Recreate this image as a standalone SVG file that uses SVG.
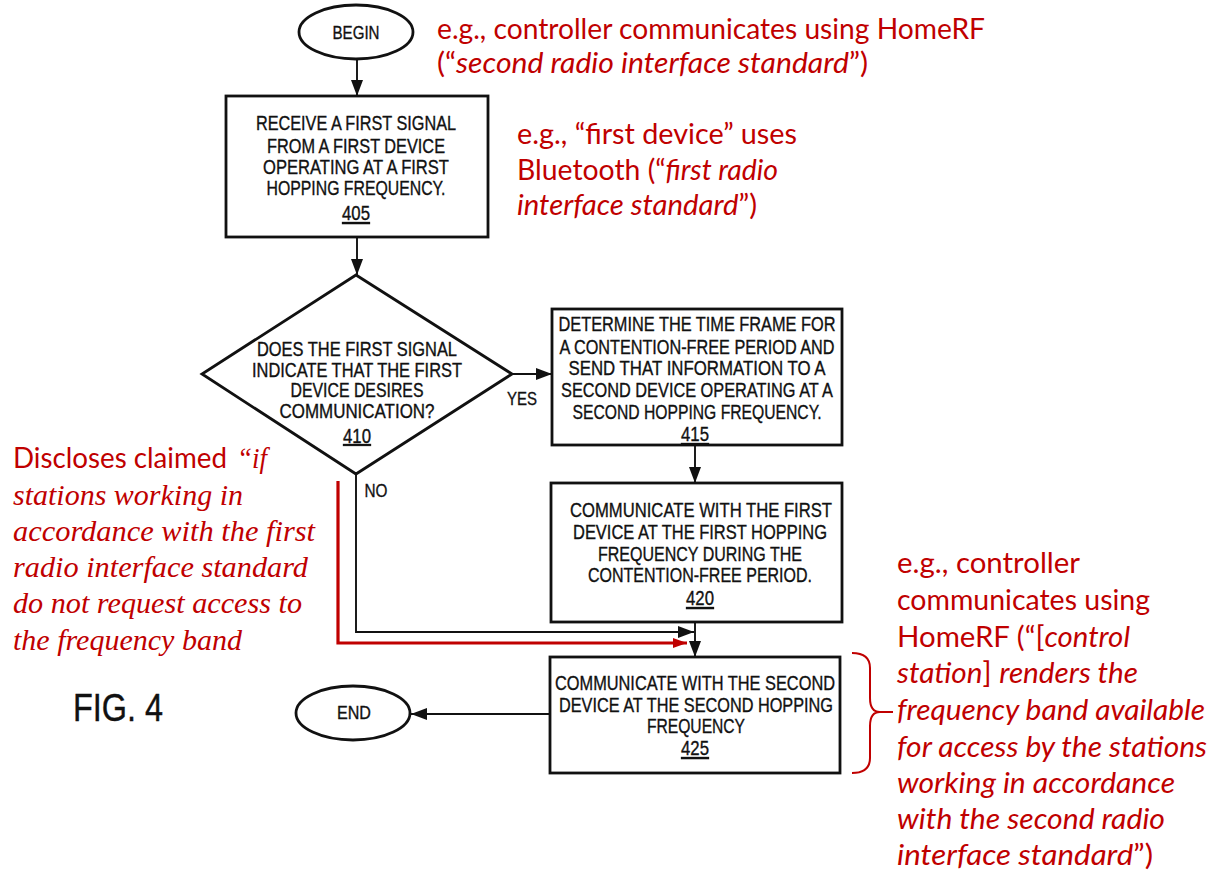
<svg xmlns="http://www.w3.org/2000/svg" width="1221" height="873" viewBox="0 0 1221 873">
  <style>
    .bg { fill: #ffffff; }
    .shape { fill: #ffffff; stroke: #111111; stroke-width: 2.8; }
    .wire { fill: none; stroke: #111111; stroke-width: 1.9; }
    .wire-red { fill: none; stroke: #c00000; stroke-width: 3.2; }
    .brace { fill: none; stroke: #c00000; stroke-width: 2; }
    .t { font-family: "Liberation Sans Narrow", "Liberation Sans", Arial, sans-serif; font-size: 20.5px; fill: #111111; stroke: #111111; stroke-width: 0.35; text-anchor: middle; }
    .t.small { font-size: 19px; }
    .t.dia { font-size: 19.5px; }
    .num { text-decoration: underline; }
    .fig { font-family: "Liberation Sans Narrow", "Liberation Sans", Arial, sans-serif; font-size: 39px; fill: #111111; stroke: #111111; stroke-width: 0.4; }
    .note { font-family: Lato, "Open Sans", "Liberation Sans", sans-serif; font-size: 29px; fill: #c00000; }
    .i { font-style: italic; }
    .serif { font-family: "Liberation Serif", "Times New Roman", serif; font-style: italic; font-size: 30px; fill: #c00000; }
  </style>
  <defs>
    <marker id="arrow" markerUnits="userSpaceOnUse" markerWidth="17" markerHeight="13" refX="16" refY="6" orient="auto">
      <path d="M0,0 L16,6 L0,12 z" fill="#111111"/>
    </marker>
    <marker id="arrow-red" markerUnits="userSpaceOnUse" markerWidth="16" markerHeight="12" refX="14" refY="5" orient="auto">
      <path d="M0,0 L14,5 L0,10 z" fill="#c00000"/>
    </marker>
  </defs>

  <rect class="bg" x="0" y="0" width="1221" height="873"/>

  <!-- connectors -->
  <g id="connectors">
    <line class="wire" x1="357" y1="60" x2="357" y2="96" marker-end="url(#arrow)"/>
    <line class="wire" x1="357" y1="237" x2="357" y2="275" marker-end="url(#arrow)"/>
    <line class="wire" x1="512" y1="374" x2="552" y2="374" marker-end="url(#arrow)"/>
    <line class="wire" x1="695" y1="445" x2="695" y2="483" marker-end="url(#arrow)"/>
    <line class="wire" x1="695" y1="622" x2="695" y2="657" marker-end="url(#arrow)"/>
    <polyline class="wire" points="356,474 356,632 694,632" marker-end="url(#arrow)"/>
    <polyline class="wire-red" points="338,481 338,643 687,643" marker-end="url(#arrow-red)"/>
    <line class="wire" x1="550" y1="714" x2="411" y2="714" marker-end="url(#arrow)"/>
    <text class="t small" x="522" y="405" textLength="30" lengthAdjust="spacingAndGlyphs">YES</text>
    <text class="t small" x="376" y="497" textLength="23" lengthAdjust="spacingAndGlyphs">NO</text>
  </g>

  <!-- start terminal -->
  <g id="begin">
    <ellipse class="shape" cx="356" cy="32" rx="57" ry="27"/>
    <text class="t small" x="356" y="39" textLength="47" lengthAdjust="spacingAndGlyphs">BEGIN</text>
  </g>

  <!-- step 405 -->
  <g id="step405">
    <rect class="shape" x="226" y="96" width="262" height="141"/>
    <text class="t" x="356" y="130" textLength="200" lengthAdjust="spacingAndGlyphs">RECEIVE A FIRST SIGNAL</text>
    <text class="t" x="356" y="153" textLength="178" lengthAdjust="spacingAndGlyphs">FROM A FIRST DEVICE</text>
    <text class="t" x="356" y="174" textLength="186" lengthAdjust="spacingAndGlyphs">OPERATING AT A FIRST</text>
    <text class="t" x="356" y="195" textLength="179" lengthAdjust="spacingAndGlyphs">HOPPING FREQUENCY.</text>
    <text class="t num" x="356" y="220" textLength="28" lengthAdjust="spacingAndGlyphs">405</text>
  </g>

  <!-- decision 410 -->
  <g id="decision410">
    <polygon class="shape" points="356,275 512,374 356,474 202,374"/>
    <text class="t dia" x="357" y="356" textLength="200" lengthAdjust="spacingAndGlyphs">DOES THE FIRST SIGNAL</text>
    <text class="t dia" x="357" y="376.5" textLength="210" lengthAdjust="spacingAndGlyphs">INDICATE THAT THE FIRST</text>
    <text class="t dia" x="357" y="397" textLength="133" lengthAdjust="spacingAndGlyphs">DEVICE DESIRES</text>
    <text class="t dia" x="357" y="417.5" textLength="155" lengthAdjust="spacingAndGlyphs">COMMUNICATION?</text>
    <text class="t dia num" x="357" y="443" textLength="28" lengthAdjust="spacingAndGlyphs">410</text>
  </g>

  <!-- step 415 -->
  <g id="step415">
    <rect class="shape" x="552" y="309" width="290" height="136"/>
    <text class="t" x="697" y="331" textLength="277" lengthAdjust="spacingAndGlyphs">DETERMINE THE TIME FRAME FOR</text>
    <text class="t" x="697" y="354" textLength="275" lengthAdjust="spacingAndGlyphs">A CONTENTION-FREE PERIOD AND</text>
    <text class="t" x="697" y="375" textLength="257" lengthAdjust="spacingAndGlyphs">SEND THAT INFORMATION TO A</text>
    <text class="t" x="697" y="397" textLength="272" lengthAdjust="spacingAndGlyphs">SECOND DEVICE OPERATING AT A</text>
    <text class="t" x="697" y="419" textLength="249" lengthAdjust="spacingAndGlyphs">SECOND HOPPING FREQUENCY.</text>
    <text class="t num" x="695" y="441" textLength="28" lengthAdjust="spacingAndGlyphs">415</text>
  </g>

  <!-- step 420 -->
  <g id="step420">
    <rect class="shape" x="551" y="483" width="291" height="139"/>
    <text class="t" x="701" y="517" textLength="262" lengthAdjust="spacingAndGlyphs">COMMUNICATE WITH THE FIRST</text>
    <text class="t" x="700" y="539" textLength="254" lengthAdjust="spacingAndGlyphs">DEVICE AT THE FIRST HOPPING</text>
    <text class="t" x="700" y="561" textLength="204" lengthAdjust="spacingAndGlyphs">FREQUENCY DURING THE</text>
    <text class="t" x="700" y="582" textLength="224" lengthAdjust="spacingAndGlyphs">CONTENTION-FREE PERIOD.</text>
    <text class="t num" x="700" y="605" textLength="28" lengthAdjust="spacingAndGlyphs">420</text>
  </g>

  <!-- step 425 -->
  <g id="step425">
    <rect class="shape" x="550" y="657" width="290" height="116"/>
    <text class="t" x="695" y="690" textLength="280" lengthAdjust="spacingAndGlyphs">COMMUNICATE WITH THE SECOND</text>
    <text class="t" x="696" y="712" textLength="274" lengthAdjust="spacingAndGlyphs">DEVICE AT THE SECOND HOPPING</text>
    <text class="t" x="696" y="733" textLength="98" lengthAdjust="spacingAndGlyphs">FREQUENCY</text>
    <text class="t num" x="695" y="755" textLength="28" lengthAdjust="spacingAndGlyphs">425</text>
  </g>

  <!-- end terminal -->
  <g id="end">
    <ellipse class="shape" cx="353" cy="713" rx="57" ry="27"/>
    <text class="t small" x="354" y="719" textLength="34" lengthAdjust="spacingAndGlyphs">END</text>
  </g>

  <!-- figure caption -->
  <g id="caption">
    <text class="fig" x="73" y="721" textLength="90" lengthAdjust="spacingAndGlyphs">FIG. 4</text>
  </g>

  <!-- annotation: controller radio -->
  <g id="note-controller">
    <text class="note" x="437" y="39" textLength="548" lengthAdjust="spacingAndGlyphs">e.g., controller communicates using HomeRF</text>
    <text class="note" x="437" y="73" textLength="431" lengthAdjust="spacingAndGlyphs">(“<tspan class="i">second radio interface standard</tspan>”)</text>
  </g>

  <!-- annotation: first device -->
  <g id="note-first-device">
    <text class="note" x="517" y="144" textLength="280" lengthAdjust="spacingAndGlyphs">e.g., “first device” uses</text>
    <text class="note" x="517" y="180" textLength="261" lengthAdjust="spacingAndGlyphs">Bluetooth (“<tspan class="i">first radio</tspan></text>
    <text class="note" x="517" y="215" textLength="240" lengthAdjust="spacingAndGlyphs"><tspan class="i">interface standard</tspan>”)</text>
  </g>

  <!-- annotation: claim language on the NO branch -->
  <g id="note-claim">
    <text class="note" x="13" y="468" textLength="214" lengthAdjust="spacingAndGlyphs">Discloses claimed</text>
    <text class="serif" x="237" y="468" textLength="30" lengthAdjust="spacingAndGlyphs">“if</text>
    <text class="serif" x="13" y="505" textLength="230" lengthAdjust="spacingAndGlyphs">stations working in</text>
    <text class="serif" x="13" y="541" textLength="302" lengthAdjust="spacingAndGlyphs">accordance with the first</text>
    <text class="serif" x="13" y="577" textLength="295" lengthAdjust="spacingAndGlyphs">radio interface standard</text>
    <text class="serif" x="13" y="613" textLength="289" lengthAdjust="spacingAndGlyphs">do not request access to</text>
    <text class="serif" x="13" y="650" textLength="229" lengthAdjust="spacingAndGlyphs">the frequency band</text>
  </g>

  <!-- annotation: second device step, with brace -->
  <g id="note-second-device">
    <path class="brace" d="M852,653 Q870,653 870,668 L870,698 Q870,712 880,712 L893,712 M880,712 Q870,712 870,726 L870,758 Q870,773 852,773"/>
    <text class="note" x="897" y="573" textLength="183" lengthAdjust="spacingAndGlyphs">e.g., controller</text>
    <text class="note" x="897" y="610" textLength="253" lengthAdjust="spacingAndGlyphs">communicates using</text>
    <text class="note" x="897" y="647" textLength="233" lengthAdjust="spacingAndGlyphs">HomeRF (“[<tspan class="i">control</tspan></text>
    <text class="note" x="897" y="683" textLength="241" lengthAdjust="spacingAndGlyphs"><tspan class="i">station</tspan>] <tspan class="i">renders the</tspan></text>
    <text class="note i" x="897" y="720" textLength="308" lengthAdjust="spacingAndGlyphs">frequency band available</text>
    <text class="note i" x="897" y="757" textLength="310" lengthAdjust="spacingAndGlyphs">for access by the stations</text>
    <text class="note i" x="897" y="793" textLength="278" lengthAdjust="spacingAndGlyphs">working in accordance</text>
    <text class="note i" x="897" y="829" textLength="268" lengthAdjust="spacingAndGlyphs">with the second radio</text>
    <text class="note" x="897" y="865" textLength="256" lengthAdjust="spacingAndGlyphs"><tspan class="i">interface standard</tspan>”)</text>
  </g>
</svg>
